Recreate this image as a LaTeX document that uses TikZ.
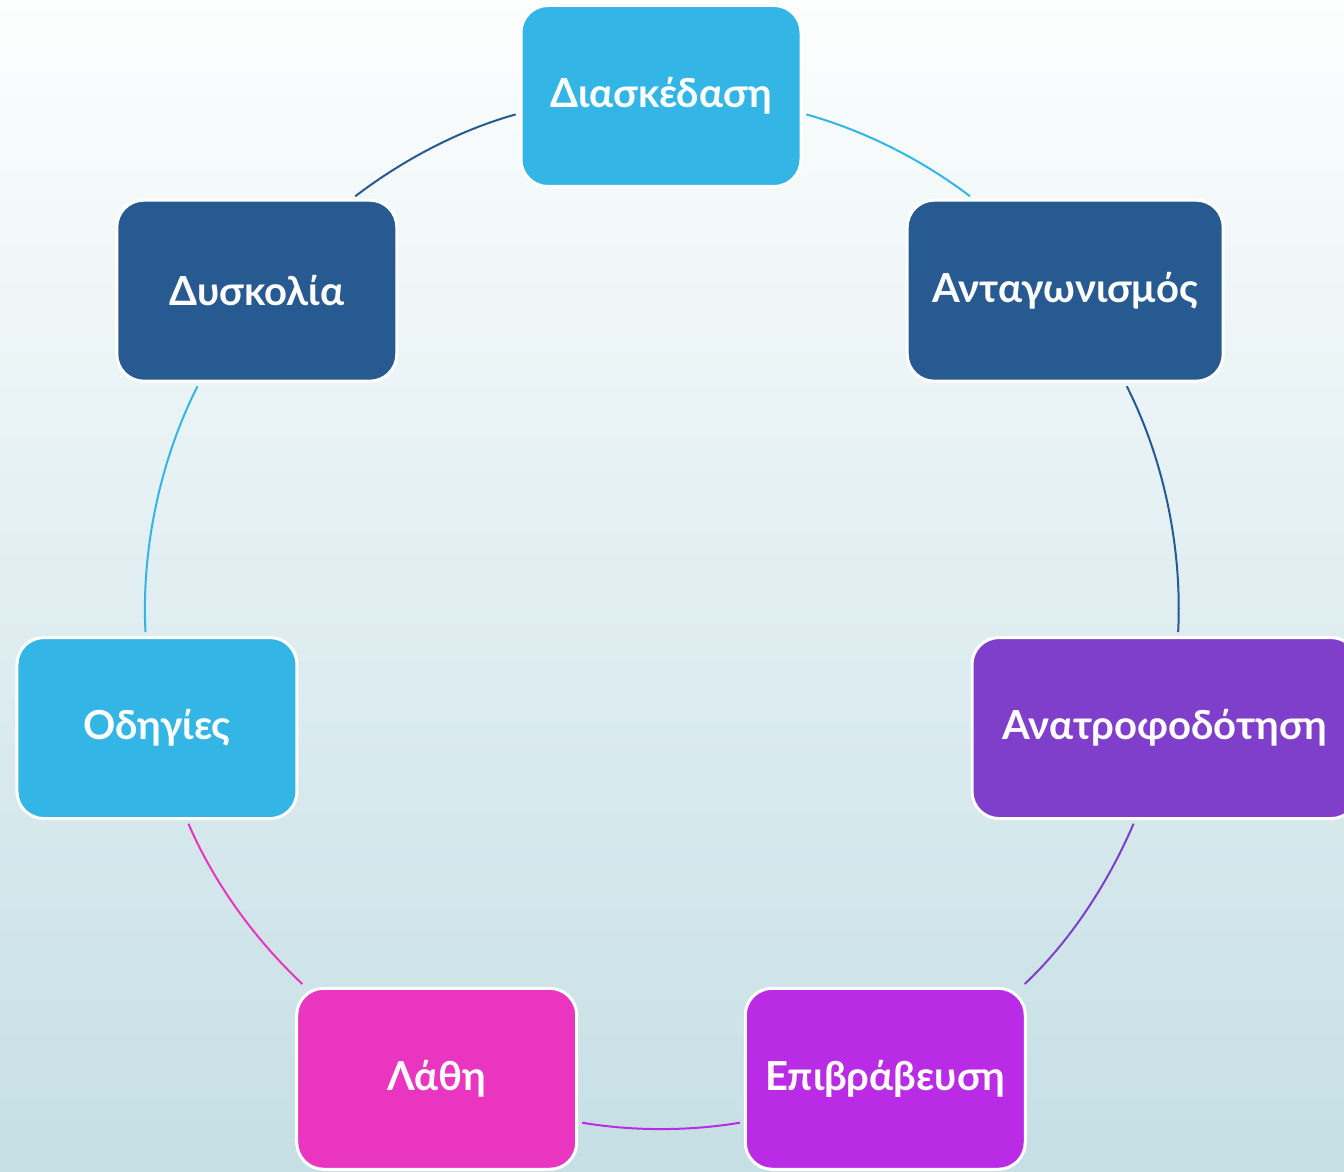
\documentclass[tikz,border=0pt]{standalone}
\usepackage{fontspec}
\setmainfont{Lato}
\definecolor{bgtop}{HTML}{FDFEFE}
\definecolor{bgbot}{HTML}{C5DFE5}
\definecolor{lblue}{HTML}{33B5E5}
\definecolor{dblue}{HTML}{275A90}
\definecolor{purp}{HTML}{7F3FCB}
\definecolor{viol}{HTML}{BA2BE5}
\definecolor{pink}{HTML}{E935BF}

\begin{document}
\begin{tikzpicture}[x=1pt,y=1pt,
  box/.style={rounded corners=27pt, draw=white, line width=3pt,
    minimum width=280pt, minimum height=181pt,
    text=white, font=\fontsize{40}{46}\selectfont\bfseries},
  link/.style={line width=2pt, shorten <=4pt, shorten >=4pt, looseness=0.86}]
\clip (0,0) rectangle (1344,1171);
\shade[top color=bgtop, bottom color=bgbot] (0,0) rectangle (1344,1171);

% boxes on the ring
\begin{scope}[shift={(661,558)}]
\node[box,fill=lblue] (fun)  at (90:517)      {Διασκέδαση};
\node[box,fill=dblue,minimum width=316pt] (comp) at (38.57:517) {Ανταγωνισμός};
\node[box,fill=purp,minimum width=386pt]  (feed) at (-12.86:517) {Ανατροφοδότηση};
\node[box,fill=viol]  (rew)  at (-64.29:517)  {Επιβράβευση};
\node[box,fill=pink]  (err)  at (-115.71:517) {Λάθη};
\node[box,fill=lblue] (inst) at (-167.14:517) {Οδηγίες};
\node[box,fill=dblue] (hard) at (141.43:517)  {Δυσκολία};
\end{scope}

% arcs between neighbours
\foreach \a/\sa/\b/\sb/\o/\i/\c in {
    fun/-7.77/comp/135.6/-15.54/142.71/lblue,
    comp/-57.3/feed/82.1/-63.17/87.11/dblue,
    feed/-108/rew/34.46/-113.25/43.21/purp,
    rew/197.6/err/-17.6/-170.5/-9.5/viol,
    err/145.54/inst/-72/136.79/-66.75/pink,
    inst/97.9/hard/-122.7/92.89/243.17/lblue,
    hard/44.4/fun/187.77/37.29/195.54/dblue} {
  \draw[link,\c] (\a.\sa) to[out=\o, in=\i] (\b.\sb);
}
\end{tikzpicture}
\end{document}
